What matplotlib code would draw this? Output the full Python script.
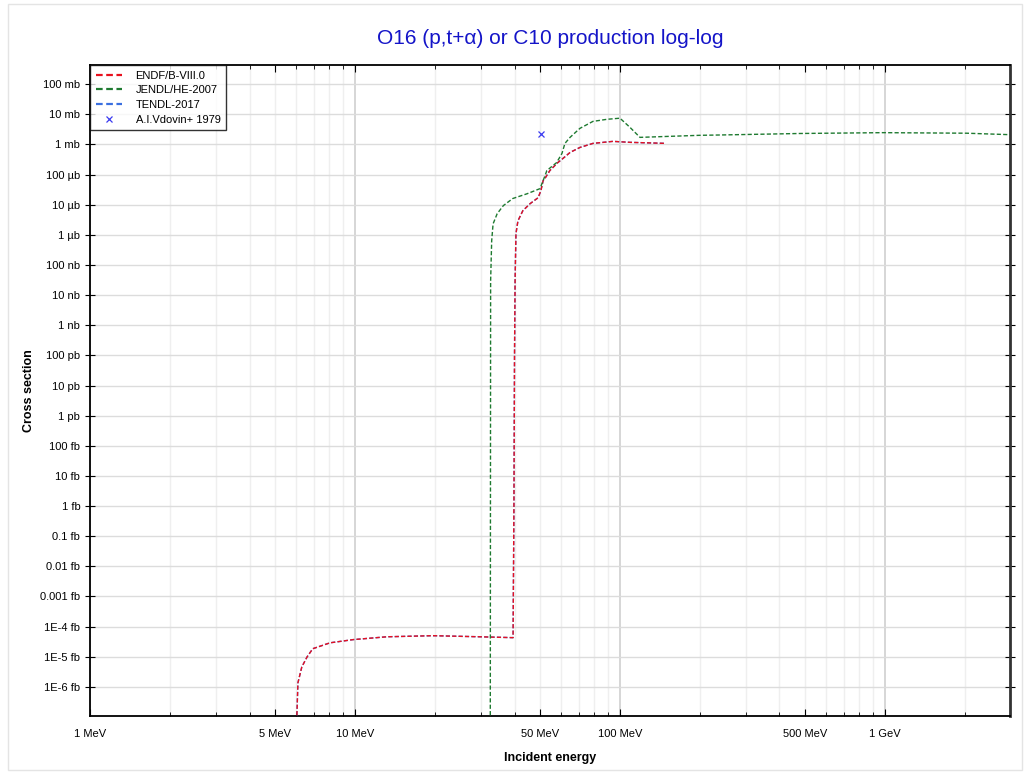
import numpy as np
import matplotlib
matplotlib.use("Agg")
import matplotlib.pyplot as plt
from matplotlib.ticker import FixedLocator, NullFormatter
from matplotlib.patches import Rectangle

plt.rcParams['font.family'] = ['Liberation Sans', 'DejaVu Sans']

# energies in MeV, cross sections in barn
endf_e = [6.0, 6.04, 6.09, 6.3, 6.6, 6.93, 8.05, 9.83, 13.2, 19.7, 29.6, 39.5,
          39.8, 40.0, 40.2, 40.5, 41.2, 43.0, 45.8, 49.1, 50.3, 51.3, 52.1,
          54.4, 58.3, 60.9, 64.8, 70.6, 79.1, 94.1, 109, 149]
endf_s = [1e-23, 1.36e-22, 1.36e-21, 4.6e-21, 1e-20, 1.85e-20, 2.9e-20, 3.7e-20,
          4.6e-20, 5e-20, 4.6e-20, 4.3e-20,
          1e-15, 1e-10, 2.9e-8, 1.08e-6, 2.9e-6, 6.3e-6, 1.08e-5, 1.7e-5, 2.9e-5,
          6.3e-5, 7.4e-5, 1.36e-4, 2.5e-4, 3.4e-4, 5.4e-4, 7.9e-4, 1.08e-3,
          1.26e-3, 1.17e-3, 1.08e-3]

tendl_e = endf_e
tendl_s = endf_s

jendl_e = [32.4, 32.5, 32.8, 33.2, 34.4, 36.3, 39.4, 44.6, 49.9, 51.3, 53.0, 57.7,
           60.4, 62.0, 64.8, 70.6, 79.1, 89.4, 100, 109, 119, 200, 238, 478, 983,
           2030, 2960]
jendl_s = [1e-23, 2.9e-8, 6.3e-7, 2.3e-6, 5e-6, 9.3e-6, 1.6e-5, 2.3e-5, 3.4e-5,
           6.3e-5, 1.36e-4, 2.5e-4, 5e-4, 1.08e-3, 1.71e-3, 3.4e-3, 5.8e-3, 6.8e-3,
           7.4e-3, 3.7e-3, 1.71e-3, 2.0e-3, 2.05e-3, 2.3e-3, 2.45e-3, 2.35e-3, 2.1e-3]

exp_e = [50.3]
exp_s = [2.15e-3]

x_ticks = [1, 5, 10, 50, 100, 500, 1000]
x_labels = ['1 MeV', '5 MeV', '10 MeV', '50 MeV', '100 MeV', '500 MeV', '1 GeV']
y_ticks = [10.0 ** k for k in range(-21, 0)]
y_labels = ['1E-6 fb', '1E-5 fb', '1E-4 fb', '0.001 fb', '0.01 fb', '0.1 fb', '1 fb',
            '10 fb', '100 fb', '1 pb', '10 pb', '100 pb', '1 nb', '10 nb', '100 nb',
            '1 µb', '10 µb', '100 µb', '1 mb', '10 mb', '100 mb']

fig = plt.figure(figsize=(10.24, 7.74), dpi=100)
fig.patches.append(Rectangle((0.008, 0.005), 0.99, 0.99, transform=fig.transFigure,
                             fill=False, edgecolor='#e4e4e4', lw=1))
ax = fig.add_axes([0.0879, 0.0749, 0.8984, 0.8411])
ax.set_xscale('log')
ax.set_yscale('log')
ax.set_xlim(1, 2964)
ax.set_ylim(1.08e-22, 0.43)

dash = (0, (3, 1.6))
ax.plot(tendl_e, tendl_s, color='#3a6fe0', lw=1.0, linestyle=dash, label='TENDL-2017', zorder=3)
ax.plot(endf_e, endf_s, color='#e8101e', lw=1.0, linestyle=dash, label='ENDF/B-VIII.0', zorder=4)
ax.plot(jendl_e, jendl_s, color='#1e7a30', lw=1.0, linestyle=dash, label='JENDL/HE-2007', zorder=5)
ax.plot(exp_e, exp_s, linestyle='none', marker='x', color='#3b3bf0', ms=5, mew=0.9,
        label='A.I.Vdovin+ 1979', zorder=6)

# grid
minor_x = [m * 10.0 ** d for d in range(0, 4) for m in range(2, 10)
           if m != 5 and m * 10.0 ** d < 2964]
ax.xaxis.set_major_locator(FixedLocator(x_ticks))
ax.set_xticklabels(x_labels)
ax.xaxis.set_minor_locator(FixedLocator(minor_x))
ax.xaxis.set_minor_formatter(NullFormatter())
ax.yaxis.set_major_locator(FixedLocator(y_ticks))
ax.set_yticklabels(y_labels)
ax.yaxis.set_minor_locator(FixedLocator([]))

for xv in [1, 10, 100, 1000]:
    ax.axvline(xv, color='#cfcfcf', lw=1.2, zorder=1)
for xv in minor_x + [5, 50, 500]:
    ax.axvline(xv, color='#efefef', lw=1.0, zorder=0.5)
for yv in y_ticks:
    ax.axhline(yv, color='#dcdcdc', lw=1.0, zorder=1)

ax.tick_params(axis='both', which='major', labelsize=8, color='black')
ax.tick_params(axis='y', which='major', direction='inout', length=7, right=True)
ax.tick_params(axis='x', which='major', direction='in', length=5, top=True, pad=9)
ax.tick_params(axis='x', which='minor', direction='in', length=3, top=True)
for s in ax.spines.values():
    s.set_linewidth(1.3)
ax.spines['right'].set_color('#333333')
ax.spines['right'].set_linewidth(2)

ax.set_title('O16 (p,t+α) or C10 production log-log', color='#1414c8', fontsize=15, pad=15)
ax.set_xlabel('Incident energy', fontsize=9, fontweight='bold', labelpad=10)
ax.set_ylabel('Cross section', fontsize=9, fontweight='bold', labelpad=4)

handles, labels = ax.get_legend_handles_labels()
order = [1, 2, 0, 3]
leg = ax.legend([handles[i] for i in order], [labels[i] for i in order],
                loc='upper left', fontsize=8, frameon=True, fancybox=False,
                edgecolor='black', borderaxespad=0.0, handlelength=2.4,
                handletextpad=1.2, labelspacing=0.42, borderpad=0.5)
leg.get_frame().set_linewidth(1.0)
for h in leg.get_lines()[:3]:
    h.set_linewidth(1.6)

fig.savefig('out.png', dpi=100)
